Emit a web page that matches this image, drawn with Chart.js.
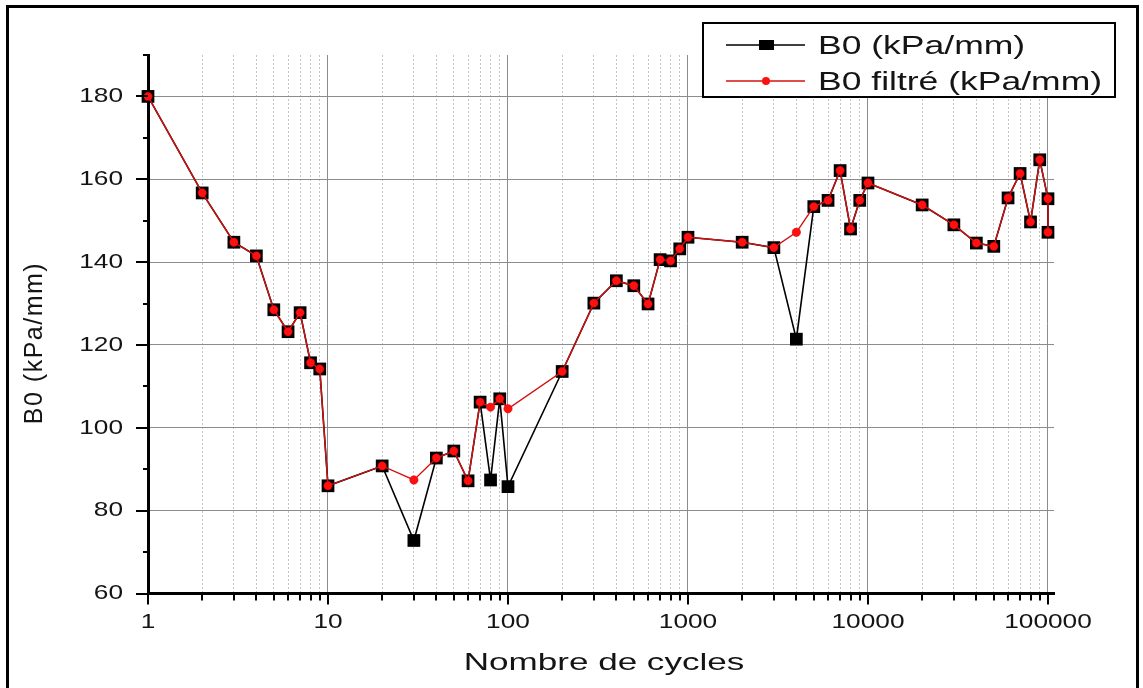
<!DOCTYPE html>
<html lang="fr">
<head>
<meta charset="utf-8">
<title>B0 - Nombre de cycles</title>
<script src="https://cdn.jsdelivr.net/npm/chart.js@4.4.1/dist/chart.umd.min.js"></script>
<style>
  html, body { margin: 0; padding: 0; background: #fff; }
  canvas { display: block; }
</style>
</head>
<body>
<canvas id="myChart" width="1143" height="688"></canvas>
<script>
/* Module B0 en fonction du nombre de cycles (axe x logarithmique)
******************************************
*/

// nombre de cycles de chaque mesure
const cycles = [1, 2, 3, 4, 5, 6, 7, 8, 9, 10,
    20, 30, 40, 50, 60, 70, 80, 90, 100,
    200, 300, 400, 500, 600, 700, 800, 900, 1000,
    2000, 3000, 4000, 5000, 6000, 7000, 8000, 9000, 10000,
    20000, 30000, 40000, 50000, 60000, 70000, 80000, 90000, 100000, 100000];

// B0 brut (kPa/mm)
const b0Brut = [180.0, 156.7, 144.8, 141.5, 128.5, 123.2, 127.8, 115.7, 114.2, 86.0,
    90.8, 72.8, 92.7, 94.4, 87.2, 106.2, 87.4, 107.0, 85.8,
    113.6, 130.1, 135.5, 134.3, 129.9, 140.6, 140.3, 143.2, 146.0,
    144.8, 143.5, 121.4, 153.4, 154.9, 162.1, 148.0, 154.9, 159.1,
    153.8, 149.0, 144.6, 143.8, 155.5, 161.4, 149.7, 164.7, 155.3, 147.2];

// B0 filtré (kPa/mm) : les points aberrants (30, 80, 100, 4000 cycles) sont remplacés
const b0Filtre = [180.0, 156.7, 144.8, 141.5, 128.5, 123.2, 127.8, 115.7, 114.2, 86.0,
    90.8, 87.4, 92.7, 94.4, 87.2, 106.2, 105.0, 107.0, 104.6,
    113.6, 130.1, 135.5, 134.3, 129.9, 140.6, 140.3, 143.2, 146.0,
    144.8, 143.5, 147.2, 153.4, 154.9, 162.1, 148.0, 154.9, 159.1,
    153.8, 149.0, 144.6, 143.8, 155.5, 161.4, 149.7, 164.7, 155.3, 147.2];

const seriesLabels = ['B0 (kPa/mm)', 'B0 filtré (kPa/mm)'];
const xTitle = 'Nombre de cycles';
const yTitle = 'B0 (kPa/mm)';

// graduations
const decades = [1, 10, 100, 1000, 10000, 100000];
const yMin = 60, yMax = 190, yStep = 10, yLabelStep = 20;
const xMin = 1, xMax = 108000;

const FONT = '"Liberation Sans", Arial, sans-serif';
const TEXT_COLOR = '#141414';

function isDecade(v) {
    const l = Math.log10(v);
    return Math.abs(l - Math.round(l)) < 1e-9;
}

// ticks 1..9 de chaque décade + la dernière
function buildLogTicks() {
    const list = [];
    decades.slice(0, -1).forEach((d) => {
        for (let m = 1; m <= 9; m++) list.push(d * m);
    });
    list.push(decades[decades.length - 1]);
    return list;
}

function toPoints(xs, ys) {
    return xs.map((x, i) => ({ x: x, y: ys[i] }));
}

// texte élargi horizontalement (police "étirée")
function drawWide(ctx, text, x, y, sx, align) {
    ctx.save();
    ctx.translate(x, y);
    ctx.scale(sx, 1);
    ctx.textAlign = align || 'left';
    ctx.fillText(text, 0, 0);
    ctx.restore();
}

// cadre, graduations, libellés, titres des axes et légende
const decorPlugin = {
    id: 'decor',
    beforeDraw(chart) {
        const ctx = chart.ctx;
        ctx.save();
        ctx.fillStyle = '#fff';
        ctx.fillRect(0, 0, chart.width, chart.height);
        ctx.restore();
    },
    afterDraw(chart) {
        const ctx = chart.ctx;
        const xs = chart.scales.x;
        const ys = chart.scales.y;
        const area = chart.chartArea;
        ctx.save();

        // traits de graduation (vers l'extérieur)
        ctx.strokeStyle = '#000';
        ctx.lineWidth = 2;
        ctx.beginPath();
        xs.ticks.forEach((t) => {
            const px = Math.round(xs.getPixelForValue(t.value));
            const len = isDecade(t.value) ? 11 : 7;
            ctx.moveTo(px, area.bottom);
            ctx.lineTo(px, area.bottom + len);
        });
        ys.ticks.forEach((t) => {
            const py = Math.round(ys.getPixelForValue(t.value));
            const len = t.value % yLabelStep === 0 ? 12 : 5;
            ctx.moveTo(area.left, py);
            ctx.lineTo(area.left - len, py);
        });
        ctx.stroke();

        // libellés des graduations
        ctx.fillStyle = TEXT_COLOR;
        ctx.font = '21px ' + FONT;
        ctx.textBaseline = 'middle';
        xs.ticks.forEach((t) => {
            if (!isDecade(t.value)) return;
            drawWide(ctx, String(t.value), xs.getPixelForValue(t.value), area.bottom + 29, 1.25, 'center');
        });
        ys.ticks.forEach((t) => {
            if (t.value % yLabelStep !== 0) return;
            drawWide(ctx, String(t.value), area.left - 25, ys.getPixelForValue(t.value), 1.25, 'right');
        });

        // titres des axes
        ctx.textBaseline = 'alphabetic';
        ctx.font = '24px ' + FONT;
        drawWide(ctx, xTitle, (area.left + area.right) / 2 + 3, 670, 1.46, 'center');
        ctx.save();
        ctx.translate(42, 343);
        ctx.rotate(-Math.PI / 2);
        ctx.font = '25px ' + FONT;
        ctx.letterSpacing = '1.5px';
        ctx.textAlign = 'center';
        ctx.fillText(yTitle, 0, 0);
        ctx.restore();

        // légende
        const box = { left: 703, top: 23, width: 412, height: 74 };
        ctx.fillStyle = '#fff';
        ctx.fillRect(box.left, box.top, box.width, box.height);
        ctx.strokeStyle = '#000';
        ctx.lineWidth = 2;
        ctx.strokeRect(box.left, box.top, box.width, box.height);

        const rows = [chart.data.datasets[1], chart.data.datasets[0]];
        rows.forEach((ds, i) => {
            const cy = box.top + 22 + i * 36;
            ctx.strokeStyle = ds.borderColor;
            ctx.lineWidth = ds.borderWidth;
            ctx.beginPath();
            ctx.moveTo(box.left + 23, cy);
            ctx.lineTo(box.left + 102, cy);
            ctx.stroke();
            ctx.fillStyle = ds.pointBackgroundColor;
            if (ds.pointStyle === 'rect') {
                ctx.fillRect(box.left + 56, cy - 5, 15, 10);
            } else {
                ctx.beginPath();
                ctx.arc(box.left + 63, cy, 4, 0, Math.PI * 2);
                ctx.fill();
            }
            ctx.fillStyle = TEXT_COLOR;
            ctx.font = '25px ' + FONT;
            drawWide(ctx, ds.label, box.left + 115, cy + 9, 1.42, 'left');
        });

        // cadre extérieur
        ctx.strokeStyle = '#000';
        ctx.lineWidth = 3;
        ctx.strokeRect(7.5, 6.5, chart.width - 13, chart.height + 10);
        ctx.restore();
    }
};

function initChart(target) {
    const logTicks = buildLogTicks();
    const chart = new Chart(target, {
        type: 'line',
        data: {
            datasets: [{
                label: seriesLabels[1],
                data: toPoints(cycles, b0Filtre),
                borderColor: '#d41010',
                borderWidth: 1.4,
                pointStyle: 'circle',
                pointRadius: 4.2,
                pointBackgroundColor: '#ff1010',
                pointBorderColor: '#e00000',
                pointBorderWidth: 0.5,
                order: 0,
                clip: false
            }, {
                label: seriesLabels[0],
                data: toPoints(cycles, b0Brut),
                borderColor: '#000000',
                borderWidth: 1.6,
                pointStyle: 'rect',
                pointRadius: 9,
                pointBackgroundColor: '#000000',
                pointBorderColor: '#000000',
                pointBorderWidth: 0,
                order: 1,
                clip: false
            }]
        },
        options: {
            responsive: false,
            animation: false,
            events: [],
            layout: {
                padding: { left: 0, right: 89, top: 55, bottom: 0 }
            },
            plugins: {
                legend: { display: false },
                tooltip: { enabled: false }
            },
            scales: {
                x: {
                    type: 'logarithmic',
                    min: xMin,
                    max: xMax,
                    afterBuildTicks: (scale) => {
                        scale.ticks = logTicks.map((v) => ({ value: v }));
                    },
                    afterFit: (scale) => { scale.height = 94.5; },
                    ticks: { display: false, autoSkip: false },
                    grid: {
                        drawTicks: false,
                        lineWidth: 1,
                        color: (c) => (c.tick && isDecade(c.tick.value)) ? '#8c8c8c' : '#c4c4c4'
                    },
                    border: {
                        display: true,
                        color: '#000',
                        width: 3,
                        dash: (c) => (c.tick && !isDecade(c.tick.value)) ? [2, 2] : []
                    }
                },
                y: {
                    type: 'linear',
                    min: yMin,
                    max: yMax,
                    afterFit: (scale) => { scale.width = 148; },
                    ticks: { display: false, stepSize: yStep },
                    grid: {
                        drawTicks: false,
                        lineWidth: 1,
                        color: (c) => (c.tick && c.tick.value % yLabelStep === 0 && c.tick.value !== yMin)
                            ? '#8c8c8c' : 'rgba(0,0,0,0)'
                    },
                    border: { display: true, color: '#000', width: 3 }
                }
            }
        },
        plugins: [decorPlugin]
    });
    return chart;
}

document.addEventListener('DOMContentLoaded', () => {
    initChart(document.querySelector('#myChart'));
});
</script>
</body>
</html>
